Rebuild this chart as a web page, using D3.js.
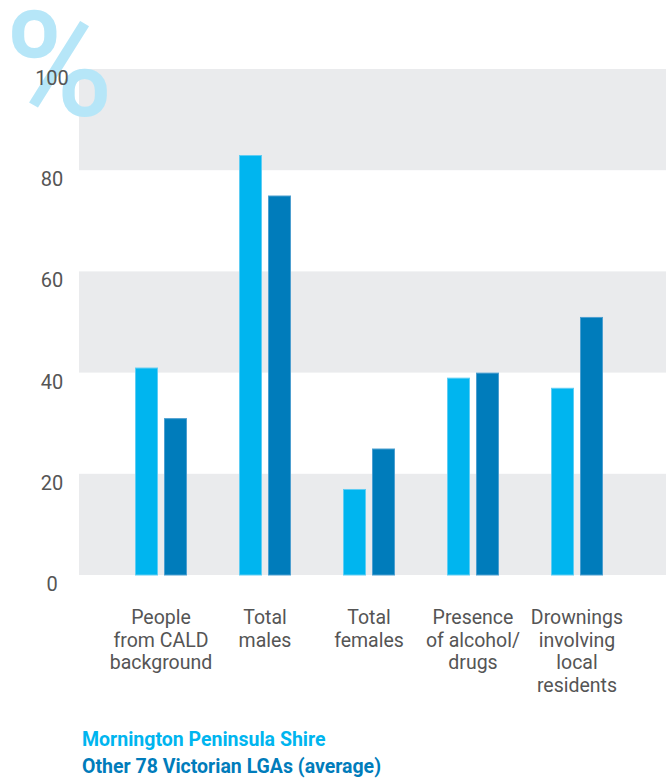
<!DOCTYPE html>
<html>
<head>
<meta charset="utf-8">
<script src="https://cdn.jsdelivr.net/npm/d3@7/dist/d3.min.js"></script>
<style>
  html, body { margin: 0; padding: 0; background: #fff; }
  svg { display: block; }
  text { font-family: Roboto, "Noto Sans", sans-serif; }
</style>
</head>
<body>
<svg id="chart" width="671" height="778"></svg>
<script>
const categories = ["cald", "males", "females", "alcohol", "drownings"];
const categoryLabels = [
  ["People", "from CALD", "background"],
  ["Total", "males"],
  ["Total", "females"],
  ["Presence", "of alcohol/", "drugs"],
  ["Drownings", "involving", "local", "residents"]
];
const seriesNames = ["Mornington Peninsula Shire", "Other 78 Victorian LGAs (average)"];
const mornington = [41, 83, 17, 39, 37];
const otherLGAs = [31, 75, 25, 40, 51];
const yTicks = [0, 20, 40, 60, 80, 100];

const colors = ["#00b5ef", "#007cbb"];
const strokes = ["#5fcdf3", "#4d9fd0"];

const svg = d3.select("#chart");
const y = d3.scaleLinear().domain([0, 100]).range([575, 69]);
const x = d3.scaleBand().domain(categories).range([109, 629]).padding(0);
const xSub = d3.scaleBand().domain([0, 1]).range([26, 78]).paddingInner(6 / 29);

// background bands
const bands = [];
for (let i = 0; i < yTicks.length - 1; i += 2) bands.push([yTicks[i], yTicks[i + 1]]);
svg.append("g").selectAll("rect").data(bands).join("rect")
  .attr("x", 79).attr("width", 666 - 79)
  .attr("y", d => y(d[1])).attr("height", d => y(d[0]) - y(d[1]))
  .attr("fill", "#eaebed");

// big percent sign
svg.append("text")
  .attr("x", 5).attr("y", 116)
  .attr("font-size", 147)
  .attr("font-weight", 500)
  .attr("fill", "#b6e6f8")
  .text("%");

// y axis labels
svg.append("g").selectAll("text").data(yTicks).join("text")
  .attr("x", 52).attr("y", d => y(d) + 16)
  .attr("text-anchor", "middle")
  .attr("font-size", 20)
  .attr("fill", "#555")
  .text(d => d);

// bars
const rows = categories.map((c, i) => ({ c, vals: [mornington[i], otherLGAs[i]] }));
const groups = svg.append("g").selectAll("g").data(rows).join("g")
  .attr("transform", d => `translate(${x(d.c)},0)`);
groups.selectAll("rect").data(d => d.vals.map((v, j) => ({ v, j }))).join("rect")
  .attr("x", d => xSub(d.j) + 0.5)
  .attr("width", xSub.bandwidth() - 1)
  .attr("y", d => y(d.v) + 0.5)
  .attr("height", d => y(0) - y(d.v) - 0.5)
  .attr("fill", d => colors[d.j])
  .attr("stroke", d => strokes[d.j])
  .attr("stroke-width", 1);

// category labels
const lab = svg.append("g").selectAll("text").data(categories).join("text")
  .attr("x", d => x(d) + x.bandwidth() / 2)
  .attr("y", 624)
  .attr("text-anchor", "middle")
  .attr("font-size", 19.5)
  .attr("fill", "#555");
lab.each(function(d, i) {
  const t = d3.select(this);
  categoryLabels[i].forEach((line, k) => {
    t.append("tspan").attr("x", x(d) + x.bandwidth() / 2).attr("dy", k === 0 ? 0 : 22.5).text(line);
  });
});

// legend
svg.append("g").selectAll("text").data(seriesNames).join("text")
  .attr("x", 82).attr("y", (d, i) => 746 + i * 27)
  .attr("font-size", 19.5)
  .attr("font-weight", "bold")
  .attr("fill", (d, i) => colors[i])
  .text(d => d);
</script>
</body>
</html>
